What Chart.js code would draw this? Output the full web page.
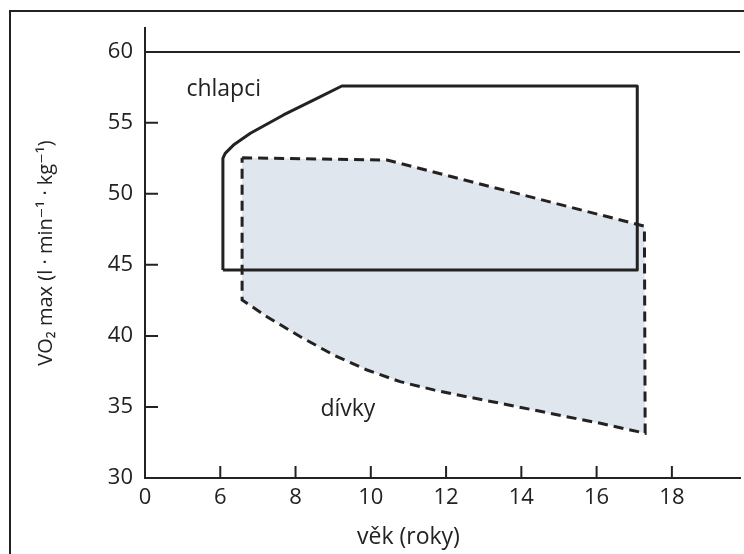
<!DOCTYPE html>
<html>
<head>
<meta charset="utf-8">
<script src="https://cdn.jsdelivr.net/npm/chart.js@4.4.1/dist/chart.umd.min.js"></script>
<style>
    html, body { margin: 0; padding: 0; background: #fff; }
    #wrap { position: relative; width: 744px; height: 554px; overflow: hidden; }
    #graf { position: absolute; left: 0; top: 0; }
    #ramecek { position: absolute; left: 9px; top: 10px; width: 800px; height: 600px;
               border-left: 2px solid #222; border-top: 2px solid #222; pointer-events: none; }
</style>
</head>
<body>
<div id="wrap">
    <canvas id="graf" width="744" height="554"></canvas>
    <div id="ramecek"></div>
</div>
<script>
// osa x je zkrácená: hodnota 4 se popisuje jako "0"
const xTickValues = [4, 6, 8, 10, 12, 14, 16, 18];
const xTickLabels = ['0', '6', '8', '10', '12', '14', '16', '18'];
const yTickValues = [30, 35, 40, 45, 50, 55, 60];

// chlapci - obrys oblasti (věk, VO2 max)
const chlapciVek = [6.07, 6.07, 6.13, 6.35, 6.80, 7.68, 8.57, 9.23, 17.08, 17.08, 6.07];
const chlapciVO2 = [44.64, 52.50, 52.85, 53.43, 54.26, 55.55, 56.72, 57.59, 57.59, 44.64, 44.64];

// dívky - obrys oblasti (věk, VO2 max)
const divkyVek = [6.58, 10.43, 17.27, 17.29, 16.10, 15.21, 14.32, 13.44, 12.55, 11.67, 10.78, 9.90, 9.01, 8.13, 7.24, 6.58, 6.58];
const divkyVO2 = [52.54, 52.38, 47.72, 33.15, 33.85, 34.31, 34.79, 35.26, 35.72, 36.20, 36.78, 37.60, 38.66, 39.94, 41.35, 42.53, 52.54];

const BARVA = '#222';
const RODINA = "'Open Sans', 'DejaVu Sans', sans-serif";
const PISMO = { family: RODINA, size: 22 };
const PISMO_TITULEK = { family: RODINA, size: 20 };
const VELIKOST_POPISKU = 23;

const body = (xs, ys) => xs.map((v, i) => ({ x: v, y: ys[i] }));

// popisky v grafu
const popisky = [
    { text: 'chlapci', x: 5.1, y: 57.33 },
    { text: 'dívky', x: 8.66, y: 34.81 }
];

// vnitřní značky os, popisky oblastí a název osy x
const osyZnacky = {
    id: 'osyZnacky',
    afterDraw(chart) {
        const { ctx, chartArea, scales: { x, y } } = chart;
        ctx.save();
        ctx.strokeStyle = BARVA;
        ctx.lineWidth = 2;
        ctx.beginPath();
        xTickValues.slice(1).forEach(v => {
            const px = x.getPixelForValue(v);
            ctx.moveTo(px, chartArea.bottom);
            ctx.lineTo(px, chartArea.bottom - 12);
        });
        yTickValues.slice(1, -1).forEach(v => {
            const py = y.getPixelForValue(v);
            ctx.moveTo(chartArea.left, py);
            ctx.lineTo(chartArea.left + 13, py);
        });
        ctx.stroke();

        ctx.fillStyle = BARVA;
        ctx.font = `${VELIKOST_POPISKU}px ${RODINA}`;
        ctx.textBaseline = 'middle';
        ctx.textAlign = 'left';
        popisky.forEach(p => ctx.fillText(p.text, x.getPixelForValue(p.x), y.getPixelForValue(p.y)));

        // název osy x - na střed mezi krajní popisky
        ctx.textAlign = 'center';
        const stred = (x.getPixelForValue(xTickValues[0]) + x.getPixelForValue(xTickValues[xTickValues.length - 1])) / 2;
        ctx.fillText('věk (roky)', stred, 537);
        ctx.restore();
    }
};

new Chart(document.getElementById('graf'), {
    type: 'scatter',
    data: {
        datasets: [
            {
                label: 'chlapci',
                data: body(chlapciVek, chlapciVO2),
                showLine: true,
                fill: false,
                borderColor: BARVA,
                borderWidth: 3,
                borderJoinStyle: 'round',
                pointRadius: 0,
                tension: 0
            },
            {
                label: 'dívky',
                data: body(divkyVek, divkyVO2),
                showLine: true,
                fill: 'shape',
                backgroundColor: '#dfe6ee',
                borderColor: BARVA,
                borderWidth: 3,
                borderDash: [10, 6],
                pointRadius: 0,
                tension: 0
            }
        ]
    },
    options: {
        responsive: false,
        animation: false,
        layout: { padding: { left: 0, top: 28, right: 4, bottom: 0 } },
        plugins: {
            legend: { display: false },
            tooltip: { enabled: false }
        },
        scales: {
            x: {
                type: 'linear',
                min: 4,
                max: 19.81,
                afterBuildTicks: s => { s.ticks = xTickValues.map(v => ({ value: v })); },
                afterFit: s => { s.height = 76; },
                ticks: {
                    callback: (v, i) => xTickLabels[i],
                    autoSkip: false,
                    maxRotation: 0,
                    padding: 7,
                    color: BARVA,
                    font: PISMO
                },
                grid: { display: false, drawTicks: false },
                border: { display: true, color: BARVA, width: 2 }
            },
            y: {
                min: 30,
                max: 61.67,
                afterBuildTicks: s => { s.ticks = yTickValues.map(v => ({ value: v })); },
                afterFit: s => { s.width = 145; },
                ticks: {
                    padding: 12,
                    color: BARVA,
                    font: PISMO
                },
                grid: {
                    drawTicks: false,
                    lineWidth: 2,
                    color: c => (c.tick && c.tick.value === 60 ? BARVA : 'rgba(0,0,0,0)')
                },
                border: { display: true, color: BARVA, width: 2 },
                title: {
                    display: true,
                    text: 'VO₂ max (l · min⁻¹ · kg⁻¹)',
                    color: BARVA,
                    font: PISMO_TITULEK,
                    padding: { top: 34, bottom: 0 }
                }
            }
        }
    },
    plugins: [osyZnacky]
});
</script>
</body>
</html>
